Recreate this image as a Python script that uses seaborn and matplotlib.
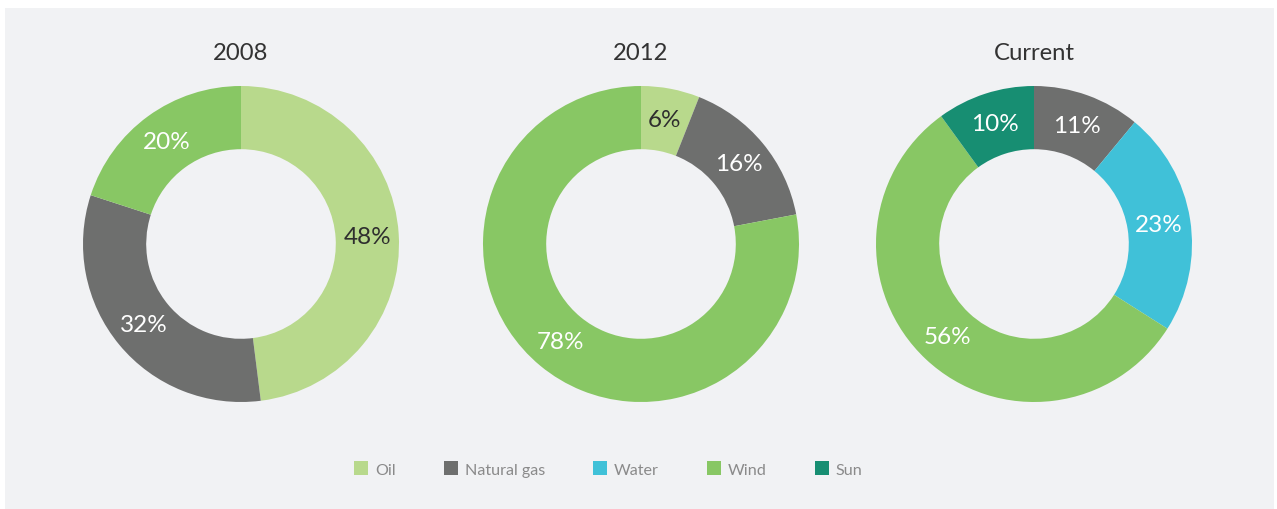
import matplotlib
matplotlib.use("Agg")
import numpy as np
import matplotlib.pyplot as plt
from matplotlib.patches import Rectangle, Patch
import seaborn as sns

# Energy mix shares per period (percent)
sources = ["Oil", "Natural gas", "Water", "Wind", "Sun"]
periods = ["2008", "2012", "Current"]
share_2008 = [48, 32, 0, 20, 0]
share_2012 = [6, 16, 0, 78, 0]
share_current = [0, 11, 23, 56, 10]
shares = [share_2008, share_2012, share_current]

source_colors = ["#b8d98c", "#6e6f6e", "#40c1d8", "#88c764", "#178e72"]
label_colors = ["#2e2e2e", "white", "white", "white", "white"]

sns.set_theme(style="white")
plt.rcParams["font.family"] = ["Lato", "DejaVu Sans"]
palette = sns.color_palette(source_colors)

W, H = 1277, 510
fig = plt.figure(figsize=(W / 100, H / 100), dpi=100)
fig.patch.set_facecolor("white")

panel_bg = "#f1f2f4"
fig.patches.append(Rectangle((5 / W, 0), (1274 - 5) / W, (H - 9) / H,
                             transform=fig.transFigure, facecolor=panel_bg,
                             edgecolor="none", zorder=-10))

centers_x = [241, 641, 1034]
center_y = 245
radius_px = 158

for cx, title, vals in zip(centers_x, periods, shares):
    ax = fig.add_axes([(cx - radius_px) / W, (H - center_y - radius_px) / H,
                       2 * radius_px / W, 2 * radius_px / H])
    ax.set_zorder(1)
    ax.patch.set_alpha(0)
    idx = [i for i, v in enumerate(vals) if v > 0]
    wedges, _ = ax.pie([vals[i] for i in idx],
                       colors=[palette[i] for i in idx],
                       startangle=90, counterclock=False, radius=1.0,
                       wedgeprops=dict(width=0.4, edgecolor="none"))
    for w, i in zip(wedges, idx):
        ang = np.deg2rad((w.theta1 + w.theta2) / 2)
        ax.text(0.8 * np.cos(ang), 0.8 * np.sin(ang), f"{vals[i]}%",
                ha="center", va="center", fontsize=17.5,
                color=label_colors[i])
    ax.set_xlim(-1, 1)
    ax.set_ylim(-1, 1)
    ax.set_aspect("equal")
    ax.axis("off")
    fig.text(cx / W, 1 - 54 / H, title, ha="center", va="center",
             fontsize=17.2, color="#333333")

handles = [Patch(facecolor=palette[i], edgecolor="none", label=s)
           for i, s in enumerate(sources)]
leg_size = 11.6
leg_px = leg_size * 100 / 72
leg = fig.legend(handles=handles, loc="center left",
                 bbox_to_anchor=(354 / W, 1 - 470 / H),
                 ncol=5, frameon=False, borderpad=0, borderaxespad=0,
                 handlelength=14 / leg_px, handleheight=14 / leg_px,
                 handletextpad=7 / leg_px, columnspacing=48 / leg_px,
                 prop={"family": ["Lato", "DejaVu Sans"], "size": leg_size})
for t in leg.get_texts():
    t.set_color("#8a8a8a")

fig.savefig("out.png", dpi=100, facecolor=fig.get_facecolor())
